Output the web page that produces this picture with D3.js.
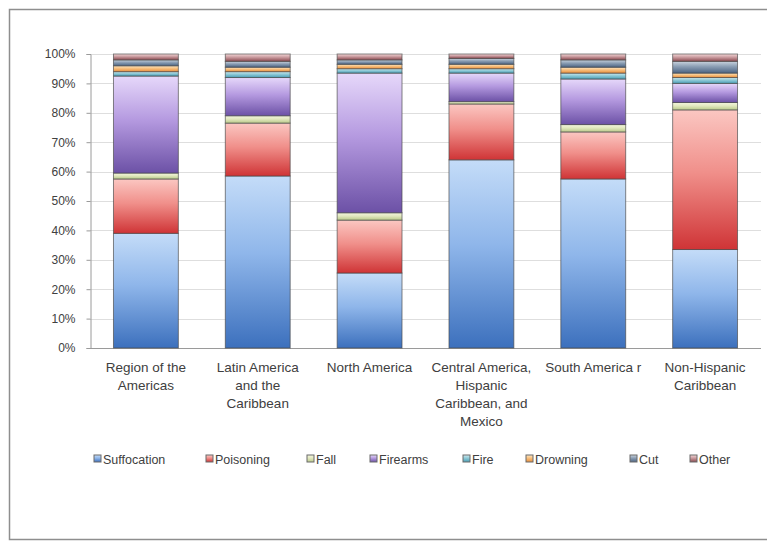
<!DOCTYPE html>
<html>
<head>
<meta charset="utf-8">
<script src="https://cdn.jsdelivr.net/npm/d3@7"></script>
<style>
  html, body { margin: 0; padding: 0; background: #fff; }
  svg { display: block; }
  text { font-family: "Liberation Sans", Arial, sans-serif; fill: #404040; }
</style>
</head>
<body>
<svg id="chart" width="767" height="546"></svg>
<script>
// Share of injury deaths by cause, per region (percent, each bar sums to 100)
const categories = [
  "Region of the Americas",
  "Latin America and the Caribbean",
  "North America",
  "Central America, Hispanic Caribbean, and Mexico",
  "South America r",
  "Non-Hispanic Caribbean"
];
const categoryLines = [
  ["Region of the", "Americas"],
  ["Latin America", "and the", "Caribbean"],
  ["North America"],
  ["Central America,", "Hispanic", "Caribbean, and", "Mexico"],
  ["South America r"],
  ["Non-Hispanic", "Caribbean"]
];
const causes = ["Suffocation", "Poisoning", "Fall", "Firearms", "Fire", "Drowning", "Cut", "Other"];

const suffocation = [39, 58.5, 25.5, 64, 57.5, 33.5];
const poisoning   = [18.5, 18, 18, 19, 16, 47.5];
const fall        = [2, 2.5, 2.5, 0.8, 2.5, 2.5];
const firearms    = [33, 13, 47.5, 9.7, 15.5, 6.5];
const fire        = [1.5, 2, 1.5, 1.5, 2, 2];
const drowning    = [2, 1.5, 1.5, 1.5, 2, 1.5];
const cut         = [2, 2, 1.5, 2, 2.5, 4];
const other       = [2, 2.5, 2, 1.5, 2, 2.5];

const yTicks = [0, 10, 20, 30, 40, 50, 60, 70, 80, 90, 100];

const seriesValues = [suffocation, poisoning, fall, firearms, fire, drowning, cut, other];

// gradient stops per cause: light top -> saturated bottom
const palette = {
  Suffocation: ["#c4dcf8", "#8fb6ea", "#3c70bd"],
  Poisoning:   ["#fbc7c2", "#f08f8a", "#cf3436"],
  Fall:        ["#f4f6df", "#e2e8bf", "#b9c98a"],
  Firearms:    ["#e6d8fa", "#b59ae0", "#6c51a6"],
  Fire:        ["#cfeaf0", "#8ec9d6", "#4a9fb6"],
  Drowning:    ["#fde6c4", "#f8c07e", "#e98e3b"],
  Cut:         ["#c9d3de", "#8a9db3", "#4c6483"],
  Other:       ["#f3d6d6", "#c99a9e", "#8a4a50"]
};

const rows = categories.map((c, i) => {
  const r = { category: c };
  causes.forEach((k, j) => { r[k] = seriesValues[j][i]; });
  return r;
});

const svg = d3.select("#chart");
const margin = { left: 90, right: 6, top: 54, bottom: 198 };
const W = 767, H = 546;

// outer frame
svg.append("rect")
  .attr("x", 9.5).attr("y", 9.5)
  .attr("width", 770).attr("height", 530)
  .attr("fill", "none")
  .attr("stroke", "#8e8e8e")
  .attr("stroke-width", 1.5);

const defs = svg.append("defs");
causes.forEach(k => {
  const g = defs.append("linearGradient")
    .attr("id", "grad-" + k)
    .attr("x1", 0).attr("y1", 0).attr("x2", 0).attr("y2", 1);
  const c = palette[k];
  g.append("stop").attr("offset", "0%").attr("stop-color", c[0]);
  g.append("stop").attr("offset", "45%").attr("stop-color", c[1]);
  g.append("stop").attr("offset", "100%").attr("stop-color", c[2]);
});

const x = d3.scaleBand()
  .domain(categories)
  .range([margin.left, W - margin.right])
  .paddingInner(0.42)
  .paddingOuter(0.21);

const y = d3.scaleLinear()
  .domain([0, 100])
  .range([H - margin.bottom, margin.top]);

// horizontal gridlines
svg.append("g")
  .selectAll("line")
  .data(yTicks.filter(t => t > 0))
  .join("line")
  .attr("x1", margin.left).attr("x2", W - margin.right)
  .attr("y1", d => Math.round(y(d)) + 0.5)
  .attr("y2", d => Math.round(y(d)) + 0.5)
  .attr("stroke", "#dedede")
  .attr("stroke-width", 1);

// y axis
const yAxis = d3.axisLeft(y)
  .tickValues(yTicks)
  .tickFormat(d => d + "%")
  .tickSize(4)
  .tickPadding(11);
const gy = svg.append("g")
  .attr("transform", `translate(${margin.left + 0.5},0)`)
  .call(yAxis);
gy.select(".domain").attr("stroke", "#9a9a9a");
gy.selectAll(".tick line").attr("stroke", "#9a9a9a");
gy.selectAll(".tick text")
  .attr("font-size", 12)
  .attr("fill", "#404040")
  .attr("font-family", "'Liberation Sans', Arial, sans-serif");

// baseline
svg.append("line")
  .attr("x1", margin.left).attr("x2", W - margin.right)
  .attr("y1", y(0) + 0.5).attr("y2", y(0) + 0.5)
  .attr("stroke", "#9a9a9a");

// stacked bars
const stacked = d3.stack().keys(causes)(rows);
const layers = svg.append("g")
  .selectAll("g")
  .data(stacked)
  .join("g")
  .attr("fill", d => `url(#grad-${d.key})`);

layers.selectAll("rect")
  .data(d => d)
  .join("rect")
  .attr("x", d => x(d.data.category))
  .attr("width", x.bandwidth())
  .attr("y", d => y(d[1]))
  .attr("height", d => y(d[0]) - y(d[1]))
  .attr("stroke", "rgba(70,70,70,0.65)")
  .attr("stroke-width", 1);

// category labels
const labels = svg.append("g")
  .selectAll("text")
  .data(categories)
  .join("text")
  .attr("x", d => x(d) + x.bandwidth() / 2)
  .attr("y", 372)
  .attr("text-anchor", "middle")
  .attr("font-size", 13.5);
labels.each(function(d, i) {
  d3.select(this).selectAll("tspan")
    .data(categoryLines[i])
    .join("tspan")
    .attr("x", x(d) + x.bandwidth() / 2)
    .attr("dy", (t, j) => j === 0 ? 0 : 18)
    .text(t => t);
});

// legend
const legendX = [94, 206, 307, 370, 463, 526, 630, 690];
const legendY = 459;
const leg = svg.append("g")
  .selectAll("g")
  .data(causes)
  .join("g")
  .attr("transform", (d, i) => `translate(${legendX[i]},${legendY})`);
leg.append("rect")
  .attr("x", 0).attr("y", -4)
  .attr("width", 7).attr("height", 7)
  .attr("fill", d => `url(#grad-${d})`)
  .attr("stroke", "#6a6a6a")
  .attr("stroke-width", 1);
leg.append("text")
  .attr("x", 9)
  .attr("y", 4.5)
  .attr("font-size", 12.5)
  .text(d => d);
</script>
</body>
</html>
